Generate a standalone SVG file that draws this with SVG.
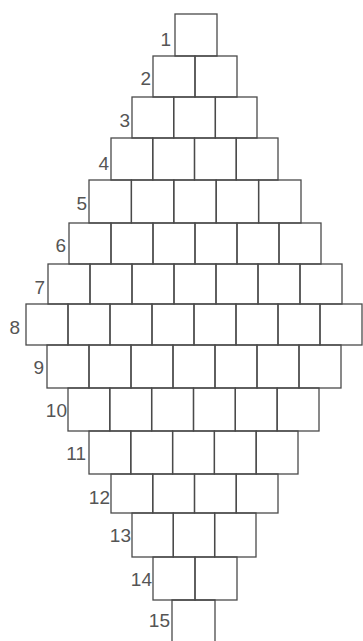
<svg xmlns="http://www.w3.org/2000/svg" width="363" height="641" viewBox="0 0 363 641">
<style>
.c{fill:none;stroke:#4a4a4a;stroke-width:1.3}
.l{font-family:"Liberation Sans",Arial,sans-serif;font-size:19px;fill:#555;text-anchor:end}
</style>
<rect width="363" height="641" fill="#fff"/>
<g id="row1"><rect class="c" x="175" y="14" width="42" height="42"/><text class="l" x="171" y="46">1</text></g>
<g id="row2"><rect class="c" x="153" y="56" width="42" height="41"/><rect class="c" x="195" y="56" width="42" height="41"/><text class="l" x="151" y="85">2</text></g>
<g id="row3"><rect class="c" x="132" y="97" width="41.7" height="41"/><rect class="c" x="173.7" y="97" width="41.7" height="41"/><rect class="c" x="215.3" y="97" width="41.7" height="41"/><text class="l" x="130" y="127">3</text></g>
<g id="row4"><rect class="c" x="111" y="138" width="41.75" height="42"/><rect class="c" x="152.75" y="138" width="41.75" height="42"/><rect class="c" x="194.5" y="138" width="41.75" height="42"/><rect class="c" x="236.25" y="138" width="41.75" height="42"/><text class="l" x="109" y="170">4</text></g>
<g id="row5"><rect class="c" x="89" y="180" width="42.4" height="43"/><rect class="c" x="131.4" y="180" width="42.4" height="43"/><rect class="c" x="173.8" y="180" width="42.4" height="43"/><rect class="c" x="216.2" y="180" width="42.4" height="43"/><rect class="c" x="258.6" y="180" width="42.4" height="43"/><text class="l" x="87" y="210">5</text></g>
<g id="row6"><rect class="c" x="69" y="223" width="42" height="41"/><rect class="c" x="111" y="223" width="42" height="41"/><rect class="c" x="153" y="223" width="42" height="41"/><rect class="c" x="195" y="223" width="42" height="41"/><rect class="c" x="237" y="223" width="42" height="41"/><rect class="c" x="279" y="223" width="42" height="41"/><text class="l" x="66" y="252">6</text></g>
<g id="row7"><rect class="c" x="48" y="264" width="42" height="40"/><rect class="c" x="90" y="264" width="42" height="40"/><rect class="c" x="132" y="264" width="42" height="40"/><rect class="c" x="174" y="264" width="42" height="40"/><rect class="c" x="216" y="264" width="42" height="40"/><rect class="c" x="258" y="264" width="42" height="40"/><rect class="c" x="300" y="264" width="42" height="40"/><text class="l" x="45" y="294">7</text></g>
<g id="row8"><rect class="c" x="26" y="304" width="42" height="41"/><rect class="c" x="68" y="304" width="42" height="41"/><rect class="c" x="110" y="304" width="42" height="41"/><rect class="c" x="152" y="304" width="42" height="41"/><rect class="c" x="194" y="304" width="42" height="41"/><rect class="c" x="236" y="304" width="42" height="41"/><rect class="c" x="278" y="304" width="42" height="41"/><rect class="c" x="320" y="304" width="42" height="41"/><text class="l" x="20" y="334">8</text></g>
<g id="row9"><rect class="c" x="47" y="345" width="42" height="43"/><rect class="c" x="89" y="345" width="42" height="43"/><rect class="c" x="131" y="345" width="42" height="43"/><rect class="c" x="173" y="345" width="42" height="43"/><rect class="c" x="215" y="345" width="42" height="43"/><rect class="c" x="257" y="345" width="42" height="43"/><rect class="c" x="299" y="345" width="42" height="43"/><text class="l" x="44" y="374">9</text></g>
<g id="row10"><rect class="c" x="68" y="388" width="41.8" height="43"/><rect class="c" x="109.8" y="388" width="41.8" height="43"/><rect class="c" x="151.7" y="388" width="41.8" height="43"/><rect class="c" x="193.5" y="388" width="41.8" height="43"/><rect class="c" x="235.3" y="388" width="41.8" height="43"/><rect class="c" x="277.2" y="388" width="41.8" height="43"/><text class="l" x="67" y="417">10</text></g>
<g id="row11"><rect class="c" x="89" y="431" width="41.8" height="43"/><rect class="c" x="130.8" y="431" width="41.8" height="43"/><rect class="c" x="172.6" y="431" width="41.8" height="43"/><rect class="c" x="214.4" y="431" width="41.8" height="43"/><rect class="c" x="256.2" y="431" width="41.8" height="43"/><text class="l" x="86" y="460">11</text></g>
<g id="row12"><rect class="c" x="111" y="474" width="41.75" height="39"/><rect class="c" x="152.75" y="474" width="41.75" height="39"/><rect class="c" x="194.5" y="474" width="41.75" height="39"/><rect class="c" x="236.25" y="474" width="41.75" height="39"/><text class="l" x="110" y="504">12</text></g>
<g id="row13"><rect class="c" x="132" y="513" width="41.3" height="44"/><rect class="c" x="173.3" y="513" width="41.3" height="44"/><rect class="c" x="214.7" y="513" width="41.3" height="44"/><text class="l" x="131" y="542">13</text></g>
<g id="row14"><rect class="c" x="153" y="557" width="42" height="43"/><rect class="c" x="195" y="557" width="42" height="43"/><text class="l" x="152" y="586">14</text></g>
<g id="row15"><path class="c" d="M172,641V600H215V641"/><text class="l" x="170" y="627">15</text></g>
</svg>
